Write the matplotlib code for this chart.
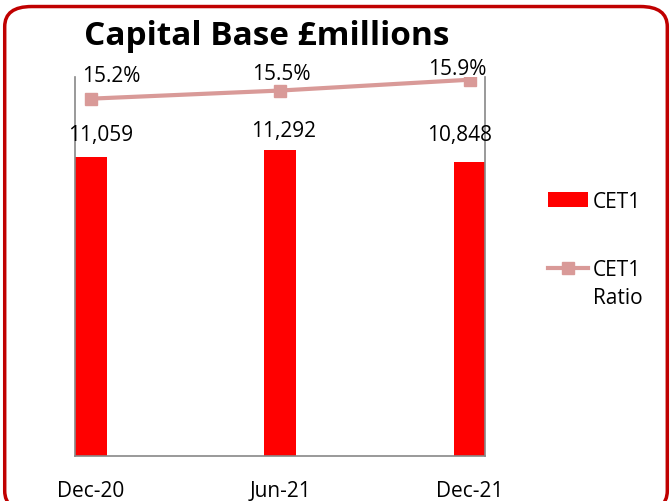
import matplotlib.pyplot as plt
import numpy as np
from matplotlib.patches import FancyBboxPatch, Patch
from matplotlib.lines import Line2D

periods = ['Dec-20', 'Jun-21', 'Dec-21']
cet1 = [11059, 11292, 10848]
cet1_ratio = [15.2, 15.5, 15.9]

# where Excel left the data labels (pixels from the point)
bar_label_dx = [10, 3, -10]
bar_label_dy = [22, 20, 28]
ratio_label_dx = [20, 1, -13]
ratio_label_dy = [23, 17, 11]

plt.rcParams['font.family'] = ['Open Sans', 'DejaVu Sans']
W, H = 672, 502

fig = plt.figure(figsize=(W / 100, H / 100), dpi=100)

# rounded red frame round the chart
frame = FancyBboxPatch((0.007, -0.02), 0.986, 1.005, boxstyle='round,pad=0,rounding_size=0.04',
                       transform=fig.transFigure, facecolor='none', edgecolor='#C00000',
                       linewidth=2.5, zorder=5)
fig.patches.append(frame)

ax = fig.add_axes([75 / W, 1 - 457 / H, 410 / W, 379 / H])
ax.patch.set_alpha(0)
x = np.arange(len(periods))
ax.bar(x, cet1, width=0.168, color='#FF0000', zorder=2)
ax.set_xlim(-0.084, 2.08)
ax.set_ylim(0, 14000)
ax.set_yticks([])
ax.set_xticks(x)
ax.set_xticklabels(periods, fontsize=15)
ax.tick_params(axis='x', length=0, pad=17)
for s in ['left', 'right', 'bottom']:
    ax.spines[s].set_color('#888888')
    ax.spines[s].set_linewidth(1.2)
ax.spines['top'].set_visible(False)

for xi, v, dx, dy in zip(x, cet1, bar_label_dx, bar_label_dy):
    ax.annotate(f'{v:,}', (xi, v), xytext=(dx, dy), textcoords='offset pixels',
                ha='center', va='center', fontsize=15)

ax2 = ax.twinx()
ax2.plot(x, cet1_ratio, color='#D99A98', linewidth=3, marker='s', markersize=8, zorder=3)
ax2.set_ylim(2, 16)
ax2.set_yticks([])
for s in ax2.spines.values():
    s.set_visible(False)
for xi, v, dx, dy in zip(x, cet1_ratio, ratio_label_dx, ratio_label_dy):
    ax2.annotate(f'{v}%', (xi, v), xytext=(dx, dy), textcoords='offset pixels',
                 ha='center', va='center', fontsize=15)

fig.text(267 / W, 1 - 45 / H, 'Capital Base £millions', ha='center', va='baseline',
         fontsize=24, fontweight='bold')

handles = [Patch(facecolor='#FF0000'),
           Line2D([0], [0], color='#D99A98', linewidth=3, marker='s', markersize=8)]
leg = fig.legend(handles, ['CET1', 'CET1'], loc='upper left', bbox_to_anchor=(548 / W, 1 - 192 / H),
                 frameon=False, fontsize=15, labelspacing=2.25, handlelength=1.9,
                 handletextpad=0.25, borderpad=0, borderaxespad=0)

# second line of the ratio label sits under the text, not the marker
fig.canvas.draw()
bb = leg.get_texts()[1].get_window_extent()
fig.text(bb.x0 / W, (bb.y0 - 28) / H, 'Ratio', ha='left', va='bottom', fontsize=15)

fig.savefig('out.png', dpi=100)
